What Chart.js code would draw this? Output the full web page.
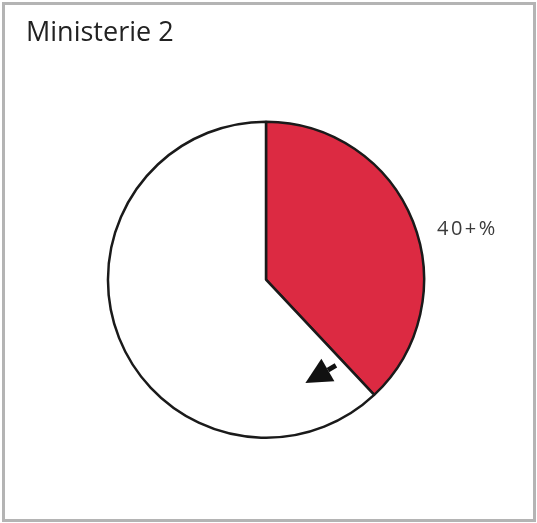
<!DOCTYPE html>
<html>
<head>
<meta charset="utf-8">
<script src="https://cdn.jsdelivr.net/npm/chart.js@4/dist/chart.umd.min.js"></script>
<style>
	body{ margin:0; background:#fff; }
	#box{ position:absolute; left:2px; top:2px; width:534px; height:520px; box-sizing:border-box; border:3px solid #b4b4b4; background:#fff; }
	#box canvas{ display:block; }
</style>
</head>
<body>
<div id="box"><canvas id="pie" width="528" height="514"></canvas></div>
<script>
let title = 'Ministerie 2';
let labels = ['40+%', 'overig'];
let values = [38, 62];
let colors = ['#dc2a42', '#ffffff'];

// text next to the red slice and the little arrow on the edge
let pie_notes = {
	id: 'pie_notes',
	afterDraw: function(chart){
		let ctx = chart.ctx;
		let arc = chart.getDatasetMeta(0).data[0];
		let p = arc.getProps(['x','y','startAngle','endAngle','outerRadius'], true);
		let mid = (p.startAngle + p.endAngle) / 2;
		ctx.save();
		ctx.font = '20px "Open Sans"';
		ctx.letterSpacing = '2.5px';
		ctx.fillStyle = '#3a3a3a';
		ctx.textBaseline = 'middle';
		ctx.textAlign = 'left';
		ctx.fillText(labels[0], p.x + Math.cos(mid)*p.outerRadius + 24, p.y + Math.sin(mid)*p.outerRadius + 8);
		ctx.restore();

		let rr = p.outerRadius*0.70;
		let tail = {x: p.x + Math.cos(p.endAngle+0.07)*rr, y: p.y + Math.sin(p.endAngle+0.07)*rr};
		let tip = {x: p.x + Math.cos(p.endAngle+0.39)*rr, y: p.y + Math.sin(p.endAngle+0.39)*rr};
		let a = Math.atan2(tip.y-tail.y, tip.x-tail.x);
		let head = 26, half = 13;
		let bx = tip.x - Math.cos(a)*head, by = tip.y - Math.sin(a)*head;
		ctx.save();
		ctx.strokeStyle = '#111';
		ctx.fillStyle = '#111';
		ctx.lineWidth = 5;
		ctx.beginPath();
		ctx.moveTo(tail.x, tail.y);
		ctx.lineTo(bx, by);
		ctx.stroke();
		ctx.beginPath();
		ctx.moveTo(tip.x, tip.y);
		ctx.lineTo(bx + Math.sin(a)*half, by - Math.cos(a)*half);
		ctx.lineTo(bx - Math.sin(a)*half, by + Math.cos(a)*half);
		ctx.closePath();
		ctx.fill();
		ctx.restore();
	}
}

new Chart('pie', {
	type: 'pie',
	data: {
		labels: labels,
		datasets: [{
			data: values,
			backgroundColor: colors,
			borderColor: '#1a1a1a',
			borderWidth: 2.5
		}]
	},
	options: {
		responsive: false,
		animation: false,
		layout: { padding: { left: 21, right: 27, top: 0, bottom: 80 } },
		plugins: {
			legend: { display: false },
			tooltip: { enabled: false },
			title: {
				display: true,
				text: title,
				align: 'start',
				color: '#222',
				font: { family: '"Open Sans"', size: 27, weight: 'normal' },
				padding: { top: 12, bottom: 71 }
			}
		}
	},
	plugins: [pie_notes]
})
</script>
</body>
</html>
